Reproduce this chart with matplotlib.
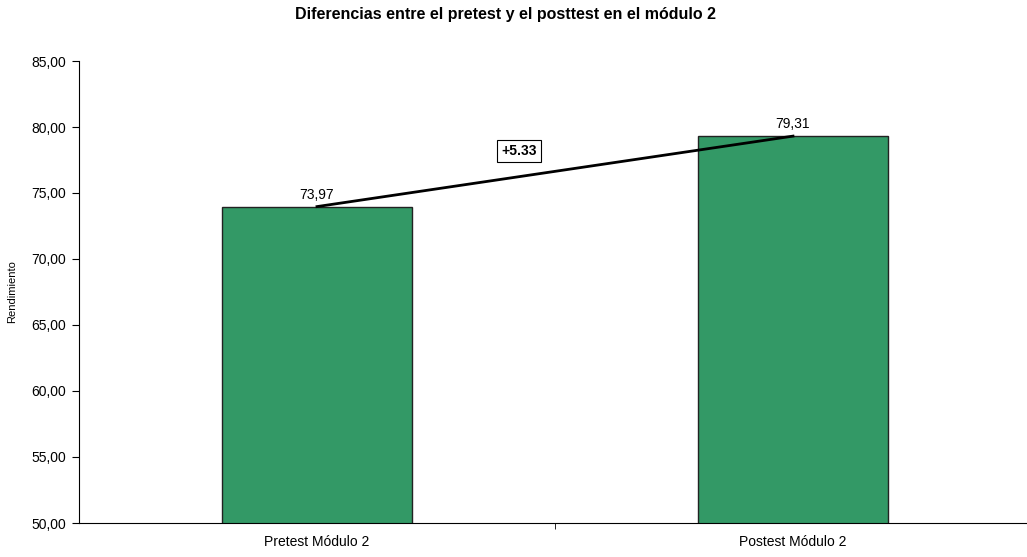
import matplotlib
matplotlib.use("Agg")
import matplotlib.pyplot as plt

categories = ["Pretest Módulo 2", "Postest Módulo 2"]
values = [73.97, 79.31]
value_labels = ["73,97", "79,31"]
diff_label = "+5.33"
yticks = [50, 55, 60, 65, 70, 75, 80, 85]

plt.rcParams['font.family'] = ['Liberation Sans', 'DejaVu Sans']

fig = plt.figure(figsize=(10.27, 5.57), dpi=100)
ax = fig.add_axes([79/1027, 1-523/557, 952/1027, (523-61)/557])

x = list(range(len(categories)))
ax.bar(x, values, width=0.4, color="#339966", edgecolor="#222222", linewidth=1, zorder=2)
ax.plot(x, values, color="black", linewidth=2, zorder=3)
for xi, v, lab in zip(x, values, value_labels):
    ax.text(xi, v + 0.35, lab, ha="center", va="bottom", fontsize=10)

ax.text(0.424, 78.18, diff_label, ha="center", va="center", fontsize=10, fontweight="bold",
        bbox=dict(boxstyle="square,pad=0.3", facecolor="white", edgecolor="black", linewidth=0.8))

ax.set_xlim(-0.5, 1.5)
ax.set_ylim(50, 85)
ax.set_yticks(yticks)
ax.set_yticklabels([f"{t:.2f}".replace(".", ",") for t in yticks], fontsize=10)
ax.set_xticks(x)
ax.set_xticklabels(categories, fontsize=10)
ax.tick_params(axis="x", length=0, pad=9)
ax.set_xticks([0.5], minor=True)
ax.tick_params(axis="x", which="minor", length=4, direction="out")
ax.tick_params(axis="y", length=5, direction="out", pad=4)

ax.spines["top"].set_visible(False)
ax.spines["right"].set_visible(False)
ax.set_ylabel("Rendimiento", fontsize=8)
ax.yaxis.set_label_coords((17-79)/952, 0.5)
fig.suptitle("Diferencias entre el pretest y el posttest en el módulo 2", fontsize=11.5,
             fontweight="bold", x=505.5/1027, y=1-15/557, va="center")

fig.savefig("out.png", dpi=100)
